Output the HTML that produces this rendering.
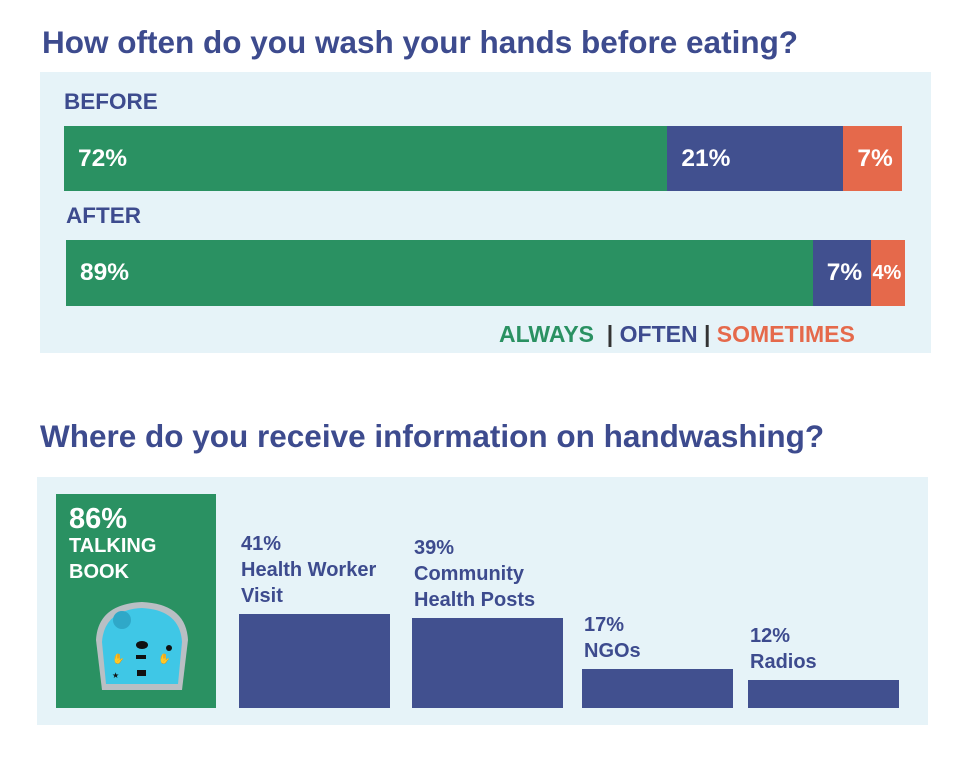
<!DOCTYPE html>
<html><head><meta charset="utf-8"><style>
body{margin:0;width:980px;height:761px;background:#fff;font-family:"Liberation Sans",Arial,sans-serif;position:relative;overflow:hidden}
.abs{position:absolute}
.t{color:#3d4b8e;font-weight:bold}
.seg{position:absolute;top:0;height:100%;color:#fff;font-weight:bold;font-size:24.5px;display:flex;align-items:center;box-sizing:border-box;padding-left:14px}
.lbl{position:absolute;color:#3d4b8e;font-weight:bold;font-size:20px;line-height:26px}
</style></head><body>
<div class="abs t" style="left:42px;top:24px;font-size:31.5px">How often do you wash your hands before eating?</div>
<div class="abs" style="left:40px;top:72px;width:891px;height:281px;background:#e6f3f8"></div>
<div class="abs t" style="left:64px;top:89px;font-size:22.5px">BEFORE</div>
<div class="abs t" style="left:66px;top:203px;font-size:22.5px">AFTER</div>
<div class="abs" id="bar0" style="left:64px;top:126px;width:838px;height:65px"></div>
<div class="abs" id="bar1" style="left:66px;top:240px;width:839px;height:66px"></div>
<div class="abs" style="left:499px;top:321px;font-size:23px;font-weight:bold;white-space:pre"><span style="color:#2a9162">ALWAYS</span><span style="color:#333">  | </span><span style="color:#3d4b8e">OFTEN</span><span style="color:#333"> | </span><span style="color:#e5694b">SOMETIMES</span></div>

<div class="abs t" style="left:40px;top:418px;font-size:31.5px">Where do you receive information on handwashing?</div>
<div class="abs" style="left:37px;top:477px;width:891px;height:248px;background:#e6f3f8"></div>
<div class="abs" style="left:56px;top:494px;width:160px;height:214px;background:#2a9162">
 <div style="position:absolute;left:13px;top:9px;color:#fff;font-weight:bold;font-size:29px">86%</div>
 <div style="position:absolute;left:13px;top:39px;color:#fff;font-weight:bold;font-size:20px;line-height:26px">TALKING<br>BOOK</div>
 <svg style="position:absolute;left:36px;top:106px" width="100" height="92">
  <path d="M10 90 L4 40 Q6 4 50 2 Q94 4 96 40 L90 90 Z" fill="#b9bfc4"/>
  <path d="M14 84 L10 42 Q12 10 50 8 Q88 10 90 42 L86 84 Z" fill="#3fc7e6"/>
  <circle cx="30" cy="20" r="9" fill="#2fa8c8"/>
  <ellipse cx="50" cy="45" rx="6" ry="4" fill="#111"/><circle cx="77" cy="48" r="3" fill="#111"/>
  <rect x="44" y="55" width="10" height="4" fill="#111"/><rect x="45" y="70" width="9" height="6" fill="#111"/>
  <text x="20" y="62" font-size="10" fill="#111">✋</text><text x="66" y="62" font-size="10" fill="#111">✋</text>
  <text x="20" y="78" font-size="8" fill="#111">★</text>
 </svg>
</div>
<div id="bars2"></div>
<script>
const freqGroups=["before","after"];
const always=[72,89];
const often=[21,7];
const sometimes=[7,4];
const colors=["#2a9162","#41508f","#e5694b"];
freqGroups.forEach((g,i)=>{
  const bar=document.getElementById('bar'+i);
  const vals=[always[i],often[i],sometimes[i]];
  const tot=vals.reduce((a,b)=>a+b,0);
  let acc=0;
  vals.forEach((v,j)=>{
    const s=document.createElement('div');
    s.className='seg';
    
    
    s.style.left=(acc/tot*100)+'%';
    s.style.width=(v/tot*100)+'%';
    s.style.background=colors[j];
    if(v<5){s.style.paddingLeft='1px';s.style.fontSize='20px';}
    s.textContent=v+'%';
    bar.appendChild(s);acc+=v;
  });
});
const sources=["Health Worker<br>Visit","Community<br>Health Posts","NGOs","Radios"];
const sourceVals=[41,39,17,12];
const xs=[239,412,582,748];
const base=708, scale=2.3;
const c=document.getElementById('bars2');
sources.forEach((s,i)=>{
  const h=sourceVals[i]*scale;
  const b=document.createElement('div');
  
  
  b.style.cssText=`position:absolute;left:${xs[i]}px;top:${base-h}px;width:151px;height:${h}px;background:#41508f`;
  c.appendChild(b);
  const l=document.createElement('div');
  l.className='lbl';
  
  
  l.style.left=(xs[i]+2)+'px';
  l.style.bottom=(761-(base-h)+5)+'px';
  l.innerHTML=sourceVals[i]+'%<br>'+s;
  c.appendChild(l);
});
</script>
</body></html>
